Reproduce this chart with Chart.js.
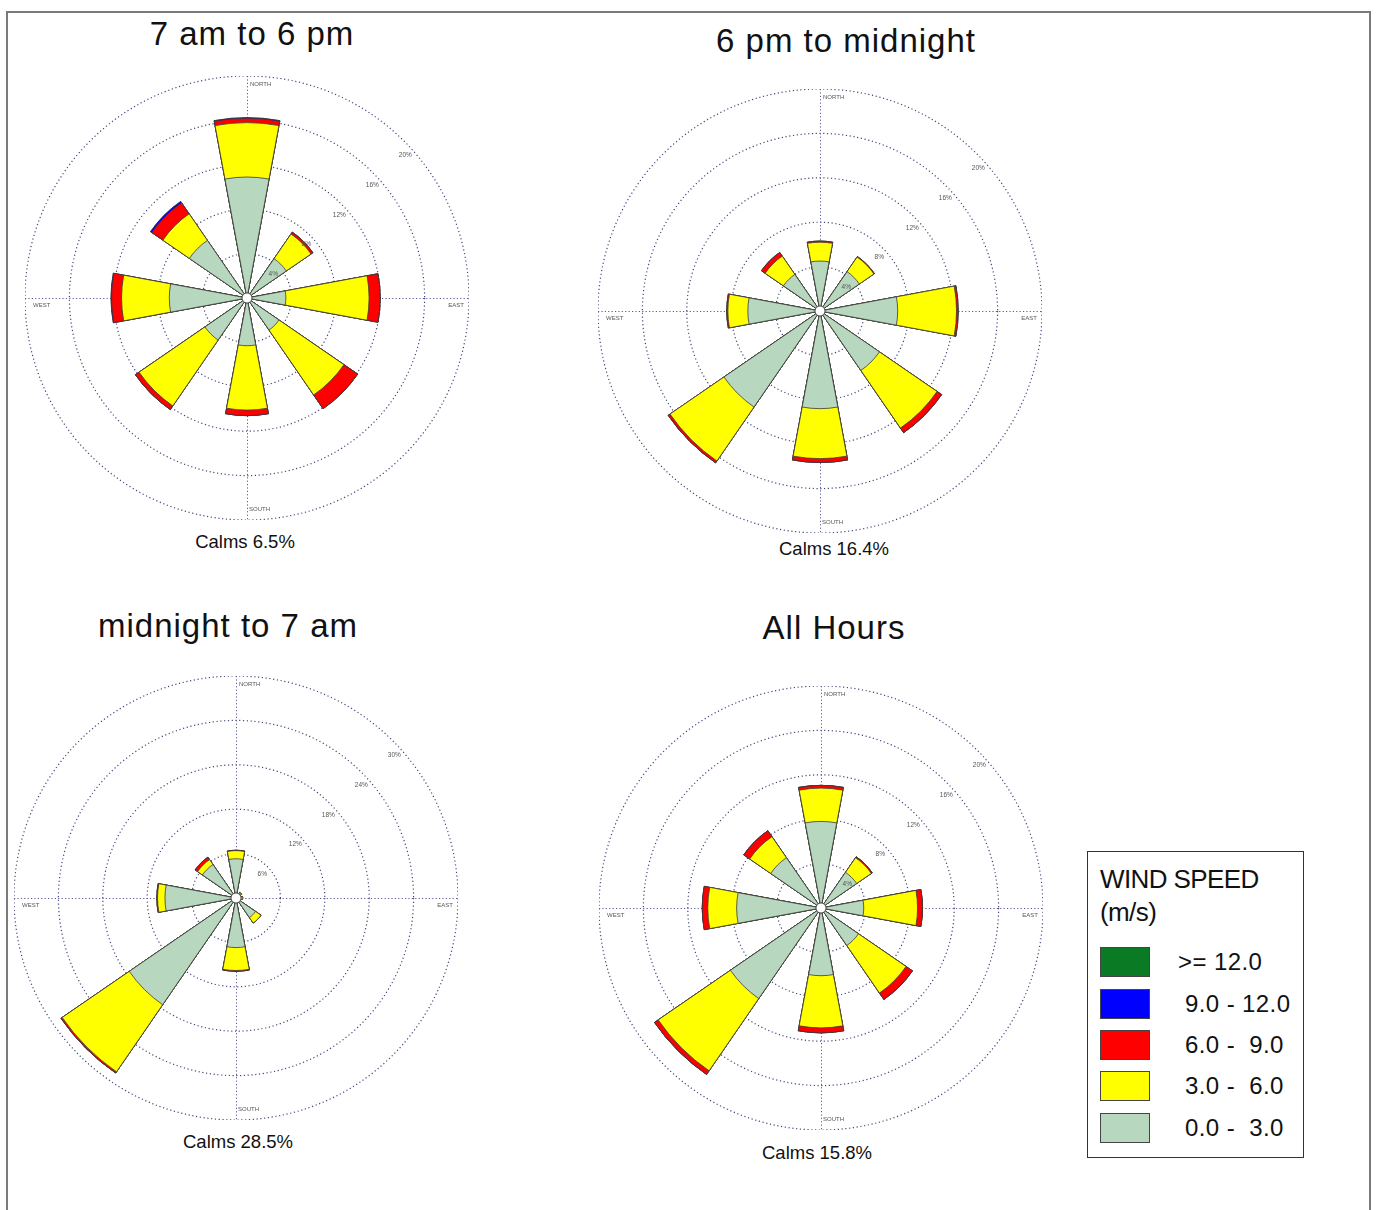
<!DOCTYPE html>
<html><head><meta charset="utf-8">
<script src="https://cdn.jsdelivr.net/npm/chart.js@4.4.1/dist/chart.umd.min.js"></script>
<style>
body{margin:0;background:#fff;width:1376px;height:1210px;position:relative;overflow:hidden;font-family:Arial,"Liberation Sans",sans-serif;}
#frame{position:absolute;left:6px;top:11px;width:1365px;height:1230px;border:2px solid #7a7a7a;box-sizing:border-box;}
canvas{position:absolute;}
.title{position:absolute;font-size:33px;line-height:33px;letter-spacing:1px;color:#111;white-space:nowrap;transform:translate(-50%,-50%);}
.calm{position:absolute;font-size:18.5px;line-height:19px;color:#111;white-space:nowrap;transform:translate(-50%,-50%);}
#legend{position:absolute;left:1087px;top:851px;width:217px;height:307px;border:1px solid #333;box-sizing:border-box;background:#fff;}
.lgh{position:absolute;left:12px;font-size:26px;line-height:26px;color:#111;white-space:nowrap;letter-spacing:-0.6px;}
.sw{position:absolute;left:12px;width:50px;height:30px;border:1px solid #444;box-sizing:border-box;}
.lt{position:absolute;font-size:24px;line-height:24px;color:#111;white-space:pre;letter-spacing:0.4px;}
</style></head>
<body>
<div id="frame"></div>
<div id="root"></div>
<div id="legend"></div>
<script>
// ---------- data ----------
const directions = ['N','NE','E','SE','S','SW','W','NW'];
const bandLabels = ['0.0 -  3.0','3.0 -  6.0','6.0 -  9.0','9.0 - 12.0','>= 12.0'];
const bandColors = ['#b7d7bf','#ffff00','#ff0000','#0000ff','#0b7a24'];
const titles = ['7 am to 6 pm','6 pm to midnight','midnight to 7 am','All Hours'];
const calms = ['Calms 6.5%','Calms 16.4%','Calms 28.5%','Calms 15.8%'];
const ringMax = [20,20,30,20];
const ringStep = [4,4,6,4];

// 7 am to 6 pm (percent of hours, per speed band)
const day_0_3  = [10.9,4.3,3.5,3.5,4.3,4.6,7.0,6.3];
const day_3_6  = [4.9,2.7,7.5,7.1,5.8,7.2,4.3,2.9];
const day_6_9  = [0.4,0.2,1.0,1.5,0.5,0.4,0.9,1.2];
const day_9_12 = [0.05,0,0,0,0,0,0.05,0.15];
const day_12up = [0,0,0,0,0,0,0,0];

// 6 pm to midnight
const eve_0_3  = [4.5,4.3,7.0,6.5,8.8,10.5,6.5,4.0];
const eve_3_6  = [1.7,1.6,5.3,6.3,4.5,5.9,1.8,2.0];
const eve_6_9  = [0.1,0.05,0.15,0.5,0.35,0.2,0.1,0.4];
const eve_9_12 = [0,0,0,0,0,0,0,0];
const eve_12up = [0,0,0,0,0,0,0,0];

// midnight to 7 am
const ngt_0_3  = [5.3,0.7,0.4,3.2,6.7,17.5,9.6,5.5];
const ngt_3_6  = [1.1,0.2,0.5,0.9,3.1,11.0,1.0,0.8];
const ngt_6_9  = [0.05,0,0,0,0.1,0.2,0.1,0.4];
const ngt_9_12 = [0,0,0,0,0,0,0,0];
const ngt_12up = [0,0,0,0,0,0,0,0];

// All Hours
const all_0_3  = [7.8,3.9,3.85,4.1,6.1,9.9,7.6,5.5];
const all_3_6  = [3.0,1.6,4.85,5.2,4.7,7.9,2.6,2.3];
const all_6_9  = [0.25,0.1,0.45,0.7,0.45,0.4,0.5,0.65];
const all_9_12 = [0,0,0,0,0,0,0,0];
const all_12up = [0,0,0,0,0,0,0,0];

const roseBands = [
  [day_0_3, day_3_6, day_6_9, day_9_12, day_12up],
  [eve_0_3, eve_3_6, eve_6_9, eve_9_12, eve_12up],
  [ngt_0_3, ngt_3_6, ngt_6_9, ngt_9_12, ngt_12up],
  [all_0_3, all_3_6, all_6_9, all_9_12, all_12up]
];

// ---------- layout ----------
const R = 222;
const centers = [[247,298],[820,311],[236,898],[821,908]];
const titlePos = [[252,33],[846,40],[228,625],[834,627]];
const calmPos = [[245,541],[834,548],[238,1141],[817,1152]];

const WEDGE = 21, GAP = 24;

const rosePlugin = {
  id: 'roseDecor',
  beforeDatasetsDraw(chart) {
    const s = chart.scales.r, ctx = chart.ctx;
    const r = s.drawingArea, cx = s.xCenter, cy = s.yCenter;
    ctx.save();
    ctx.strokeStyle = '#5a5a9a';
    ctx.lineWidth = 1;
    ctx.setLineDash([1.2, 2.2]);
    ctx.beginPath();
    ctx.moveTo(cx - r, cy + 0.5); ctx.lineTo(cx + r, cy + 0.5);
    ctx.moveTo(cx + 0.5, cy - r); ctx.lineTo(cx + 0.5, cy + r);
    ctx.stroke();
    ctx.setLineDash([]);
    ctx.fillStyle = '#555';
    ctx.font = '6px Arial';
    ctx.textBaseline = 'middle';
    ctx.textAlign = 'left';
    ctx.fillText('NORTH', cx + 3, cy - r + 8);
    ctx.fillText('SOUTH', cx + 2, cy + r - 11);
    ctx.fillText('WEST', cx - r + 8, cy + 7);
    ctx.textAlign = 'right';
    ctx.fillText('EAST', cx + r - 5, cy + 7);
    ctx.restore();
  },
  afterDatasetsDraw(chart) {
    const s = chart.scales.r, ctx = chart.ctx;
    const cx = s.xCenter, cy = s.yCenter;
    ctx.save();
    ctx.fillStyle = '#555';
    ctx.font = '6.5px Arial';
    ctx.textAlign = 'center';
    ctx.textBaseline = 'middle';
    const th = 48 * Math.PI / 180;
    s.ticks.forEach(t => {
      if (t.value === 0) return;
      const d = s.getDistanceFromCenterForValue(t.value) - 9;
      ctx.fillText(t.value + '%', cx + d * Math.sin(th), cy - d * Math.cos(th));
    });
    ctx.beginPath();
    ctx.arc(cx, cy, 5, 0, Math.PI * 2);
    ctx.fillStyle = '#fff';
    ctx.fill();
    ctx.strokeStyle = '#333';
    ctx.lineWidth = 0.8;
    ctx.stroke();
    ctx.restore();
  }
};

const root = document.getElementById('root');
const labels16 = [];
directions.forEach(d => { labels16.push(d); labels16.push(''); });

roseBands.forEach((bands, n) => {
  const cv = document.createElement('canvas');
  cv.width = 2 * R; cv.height = 2 * R;
  cv.style.left = (centers[n][0] - R) + 'px';
  cv.style.top = (centers[n][1] - R) + 'px';
  root.appendChild(cv);

  let cum = directions.map(() => 0);
  const datasets = bands.map((b, k) => {
    cum = cum.map((v, i) => v + b[i]);
    const data = [];
    cum.forEach(v => { data.push(v); data.push(0); });
    return {
      label: bandLabels[k],
      data,
      backgroundColor: bandColors[k],
      borderColor: '#3a3a3a',
      borderWidth: c => (c.dataIndex % 2 ? 0 : 0.8),
      angle: c => (c.dataIndex % 2 ? GAP : WEDGE)
    };
  });

  new Chart(cv, {
    type: 'polarArea',
    data: { labels: labels16, datasets },
    options: {
      responsive: false,
      animation: false,
      events: [],
      layout: { padding: 0 },
      plugins: { legend: { display: false }, tooltip: { enabled: false }, title: { display: false } },
      scales: {
        r: {
          min: 0, max: ringMax[n],
          startAngle: -WEDGE / 2,
          ticks: { display: false, stepSize: ringStep[n] },
          grid: { circular: true, color: '#46467a', lineWidth: 1.2 },
          border: { dash: [1.2, 2.6] },
          angleLines: { display: false },
          pointLabels: { display: false }
        }
      }
    },
    plugins: [rosePlugin]
  });

  const t = document.createElement('div');
  t.className = 'title';
  t.textContent = titles[n];
  t.style.left = titlePos[n][0] + 'px';
  t.style.top = titlePos[n][1] + 'px';
  root.appendChild(t);

  const c = document.createElement('div');
  c.className = 'calm';
  c.textContent = calms[n];
  c.style.left = calmPos[n][0] + 'px';
  c.style.top = calmPos[n][1] + 'px';
  root.appendChild(c);
});

// ---------- legend ----------
const lg = document.getElementById('legend');
lg.innerHTML = '<div class="lgh" style="top:14px">WIND SPEED</div><div class="lgh" style="top:47px">(m/s)</div>';
const swTops = [95, 137, 178, 219, 261];
const order = [4, 3, 2, 1, 0];
order.forEach((k, j) => {
  const sw = document.createElement('div');
  sw.className = 'sw';
  sw.style.top = swTops[j] + 'px';
  sw.style.background = bandColors[k];
  lg.appendChild(sw);
  const tx = document.createElement('div');
  tx.className = 'lt';
  tx.textContent = bandLabels[k];
  tx.style.left = (k === 4 ? 90 : 97) + 'px';
  tx.style.top = (swTops[j] + 3) + 'px';
  lg.appendChild(tx);
});
</script>
</body></html>
